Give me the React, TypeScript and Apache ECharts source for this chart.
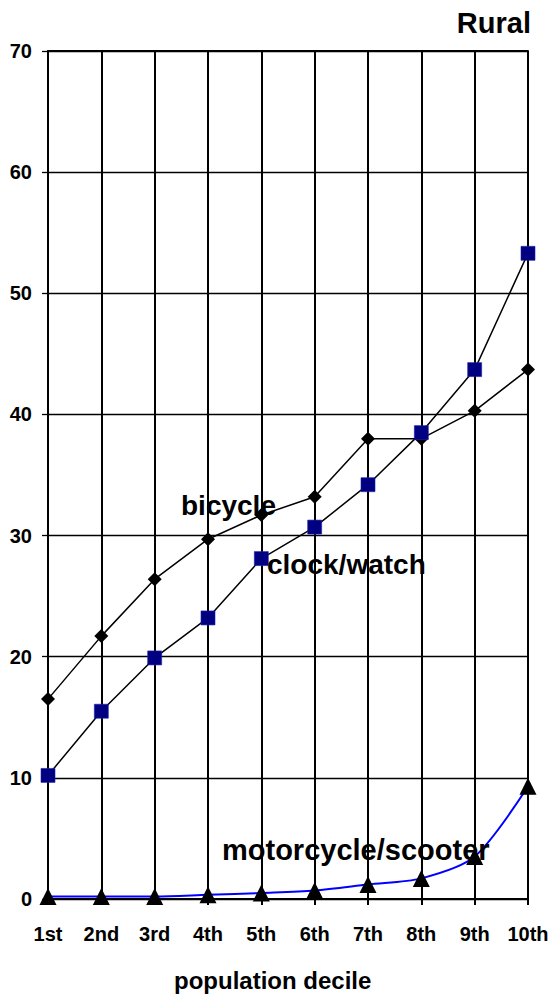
import React, { useEffect, useRef } from "react";
import * as echarts from "echarts";

const categories = ["1st", "2nd", "3rd", "4th", "5th", "6th", "7th", "8th", "9th", "10th"];
const bicycle = [16.5, 21.7, 26.4, 29.7, 31.7, 33.2, 38.0, 38.0, 40.3, 43.7];
const clockWatch = [10.2, 15.5, 19.9, 23.2, 28.1, 30.7, 34.2, 38.5, 43.7, 53.3];
const motorcycle = [0.2, 0.2, 0.2, 0.35, 0.5, 0.7, 1.2, 1.7, 3.5, 9.3];
const yTicks = { min: 0, max: 70, interval: 10 };

const FONT = "'Liberation Sans', Arial, sans-serif";

export default function App() {
  const ref = useRef<HTMLDivElement>(null);
  useEffect(() => {
    if (!ref.current) return;
    const chart = echarts.init(ref.current, null, { renderer: "svg" });
    chart.setOption({
      animation: false,
      backgroundColor: "#ffffff",
      textStyle: { fontFamily: FONT },
      grid: { left: 48, right: 25, top: 51, bottom: 102, containLabel: false },
      xAxis: [
        {
          type: "category",
          data: categories,
          boundaryGap: false,
          axisLine: { show: true, lineStyle: { color: "#000", width: 2 } },
          axisTick: { show: true, length: 6, inside: false, lineStyle: { color: "#000", width: 2 } },
          splitLine: { show: true, lineStyle: { color: "#000", width: 2 } },
          axisLabel: {
            color: "#000",
            fontFamily: FONT,
            fontWeight: "bold",
            fontSize: 20,
            margin: 25,
            interval: 0,
          },
        },
        {
          type: "category",
          data: categories,
          boundaryGap: false,
          position: "top",
          axisLine: { show: true, lineStyle: { color: "#000", width: 2 } },
          axisTick: { show: false },
          axisLabel: { show: false },
          splitLine: { show: false },
        },
      ],
      yAxis: {
        type: "value",
        min: yTicks.min,
        max: yTicks.max,
        interval: yTicks.interval,
        axisLine: { show: true, lineStyle: { color: "#000", width: 2 } },
        axisTick: { show: true, length: 6, inside: false, lineStyle: { color: "#000", width: 1.3 } },
        splitLine: { show: true, lineStyle: { color: "#000", width: 1.3 } },
        axisLabel: {
          color: "#000",
          fontFamily: FONT,
          fontWeight: "bold",
          fontSize: 20,
          margin: 16,
        },
      },
      series: [
        {
          name: "bicycle",
          type: "line",
          data: bicycle,
          symbol: "diamond",
          symbolSize: 14,
          lineStyle: { color: "#000", width: 1.5 },
          itemStyle: { color: "#000" },
          z: 3,
        },
        {
          name: "clock/watch",
          type: "line",
          data: clockWatch,
          symbol: "rect",
          symbolSize: 14,
          lineStyle: { color: "#000", width: 1.5 },
          itemStyle: { color: "#000080", borderColor: "#2020b0", borderWidth: 0.6 },
          z: 4,
        },
        {
          name: "motorcycle/scooter",
          type: "line",
          data: motorcycle,
          symbol: "triangle",
          symbolSize: 17,
          smooth: 0.3,
          lineStyle: { color: "#0000ff", width: 2 },
          itemStyle: { color: "#000" },
          z: 5,
        },
      ],
      graphic: [
        {
          type: "text",
          right: 22,
          top: 8,
          style: { text: "Rural", font: `bold 29px ${FONT}`, fill: "#000" },
        },
        {
          type: "text",
          left: 181,
          top: 491,
          style: { text: "bicycle", font: `bold 28px ${FONT}`, fill: "#000" },
          z: 10,
        },
        {
          type: "text",
          left: 267,
          top: 550,
          style: { text: "clock/watch", font: `bold 28px ${FONT}`, fill: "#000" },
          z: 10,
        },
        {
          type: "text",
          left: 222,
          top: 835,
          style: { text: "motorcycle/scooter", font: `bold 29px ${FONT}`, fill: "#000" },
          z: 10,
        },
        {
          type: "text",
          left: 174,
          top: 968,
          style: { text: "population decile", font: `bold 24px ${FONT}`, fill: "#000" },
          z: 10,
        },
      ],
    });
    return () => chart.dispose();
  }, []);
  return (
    <div
      ref={ref}
      style={{ position: "absolute", left: 0, top: 0, width: 553, height: 1001 }}
    />
  );
}
